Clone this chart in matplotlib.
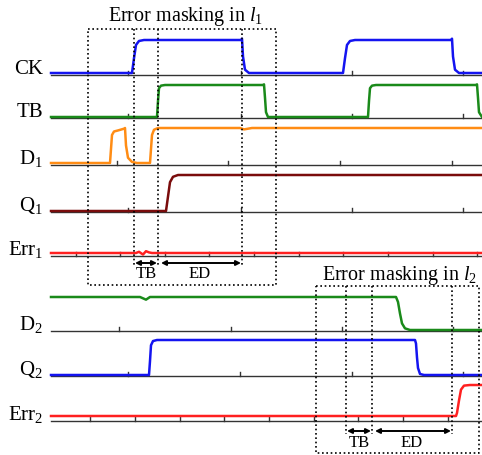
import matplotlib.pyplot as plt

# Signal names shown on the left
labels = ['CK', 'TB', 'D$_1$', 'Q$_1$', 'Err$_1$', 'D$_2$', 'Q$_2$', 'Err$_2$']

# Waveforms: time (px units of the time axis) and normalised logic level
ck_t = [51, 132, 134, 136, 139, 144, 241, 242, 243, 245, 249, 343, 345, 347, 350, 355, 451, 452, 453, 455, 459, 482]
ck_v = [0, 0, 0.45, 0.85, 0.97, 1, 1, 1.04, 0.5, 0.1, 0, 0, 0.45, 0.85, 0.97, 1, 1, 1.04, 0.5, 0.1, 0, 0]

tb_t = [51, 157, 158, 159, 161, 165, 263, 264, 265, 266, 268, 368, 369, 370, 372, 376, 476, 477, 478, 479, 482]
tb_v = [0, 0, 0.5, 0.9, 0.98, 1, 1, 1.02, 0.6, 0.15, 0, 0, 0.5, 0.9, 0.98, 1, 1, 1.02, 0.6, 0.15, 0]

d1_t = [51, 110, 111, 112, 114, 118, 124, 125, 126, 128, 132, 137, 150, 151, 152, 154, 158, 240, 244, 248, 252, 482]
d1_v = [0, 0, 0.4, 0.8, 0.9, 0.93, 0.98, 1, 0.5, 0.15, 0.03, 0, 0, 0.4, 0.8, 0.95, 1, 1, 0.96, 0.98, 1, 1]

q1_t = [51, 166, 168, 170, 173, 178, 482]
q1_v = [0, 0, 0.4, 0.8, 0.95, 1, 1]

e1_t = [51, 136, 139, 143, 146, 149, 152, 482]
e1_v = [0, 0, 0.04, -0.05, 0.06, 0.02, 0, 0]

d2_t = [51, 140, 146, 150, 396, 398, 400, 402, 405, 410, 482]
d2_v = [1, 1, 0.92, 1, 1, 0.85, 0.5, 0.2, 0.05, 0, 0]

q2_t = [51, 149, 150, 151, 153, 157, 415, 416, 417, 418, 420, 424, 482]
q2_v = [0, 0, 0.4, 0.85, 0.97, 1, 1, 0.9, 0.5, 0.2, 0.03, 0, 0]

e2_t = [51, 456, 457, 459, 461, 464, 470, 482]
e2_v = [0, 0, 0.1, 0.5, 0.85, 0.98, 1, 1]

# Time ticks on each row's baseline
ticks_ck = [128, 241, 352, 463]
ticks_tb = [128, 241, 352, 463]
ticks_d1 = [117, 228, 340, 452]
ticks_q1 = [128, 241, 352, 463]
ticks_e1 = [76, 120, 165, 209, 254, 299, 343, 388, 433, 477]
ticks_d2 = [119, 231, 342, 453]
ticks_q2 = [128, 240, 352, 463]
ticks_e2 = [90, 135, 180, 224, 269, 314, 358, 403, 448]

plt.rcParams['font.family'] = ['Liberation Serif', 'DejaVu Serif']
plt.rcParams['mathtext.fontset'] = 'custom'
plt.rcParams['mathtext.rm'] = 'Liberation Serif'
plt.rcParams['mathtext.it'] = 'Liberation Serif:italic'

BLUE = '#1414f0'
GREEN = '#1a8a1a'
ORANGE = '#ff8c14'
DARKRED = '#7a0c0c'
RED = '#ff2020'

# row layout: (times, levels, ticks, color, baseline, low offset, amplitude)
rows = [
    (ck_t, ck_v, ticks_ck, BLUE, 75, 2, 33),
    (tb_t, tb_v, ticks_tb, GREEN, 118, 1, 32),
    (d1_t, d1_v, ticks_d1, ORANGE, 165, 2, 35),
    (q1_t, q1_v, ticks_q1, DARKRED, 212, 1, 36),
    (e1_t, e1_v, ticks_e1, RED, 256, 3, 30),
    (d2_t, d2_v, ticks_d2, GREEN, 331, 1, 33),
    (q2_t, q2_v, ticks_q2, BLUE, 376, 1, 35),
    (e2_t, e2_v, ticks_e2, RED, 421, 5, 31),
]

fig = plt.figure(figsize=(4.82, 4.55), dpi=100)
ax = fig.add_axes([0, 0, 1, 1])
ax.set_xlim(0, 482)
ax.set_ylim(455, 0)
ax.axis('off')

for label, (t, v, ticks, color, base, off, amp) in zip(labels, rows):
    # baseline with small time ticks
    ax.plot([51, 482], [base, base], color='#333333', lw=1.0, zorder=1)
    for x in ticks:
        ax.plot([x, x], [base, base - 4], color='#333333', lw=1.0, zorder=1)
    y = [base - off - amp * lv for lv in v]
    ax.plot(t, y, color=color, lw=1.8, solid_joinstyle='round', zorder=3)
    ax.text(43, base - 1, label, ha='right', va='baseline', fontsize=15)


def masking_box(x0, x1, y0, y1, marks, y_arrow, y_text, title, title_xy):
    """Dotted box with TB / ED windows and arrows."""
    kw = dict(color='black', lw=1.2, ls=(0, (1, 1.6)), zorder=4)
    ax.plot([x0, x1, x1, x0, x0], [y0, y0, y1, y1, y0], **kw)
    for x in marks:
        ax.plot([x, x], [y0, y_arrow + 3], **kw)
    a, b, c = marks
    arrow = dict(arrowstyle='<|-|>', color='black', lw=1.4, mutation_scale=7,
                 shrinkA=0, shrinkB=0)
    ax.annotate('', xy=(b - 1, y_arrow), xytext=(a + 1, y_arrow), arrowprops=arrow)
    ax.annotate('', xy=(c - 1, y_arrow), xytext=(b + 3, y_arrow), arrowprops=arrow)
    ax.text((a + b) / 2, y_text, 'TB', ha='center', va='center', fontsize=12)
    ax.text((b + c) / 2, y_text, 'ED', ha='center', va='center', fontsize=12)
    ax.text(title_xy[0], title_xy[1], title, ha='center', va='baseline', fontsize=14.5)


masking_box(88, 276, 29, 285, [134, 158, 242], 263, 274,
            'Error masking in $l_1$', (186, 21))
masking_box(316, 479, 286, 453, [346, 372, 452], 431, 443,
            'Error masking in $l_2$', (400, 280))

plt.savefig('out.png', dpi=100)
